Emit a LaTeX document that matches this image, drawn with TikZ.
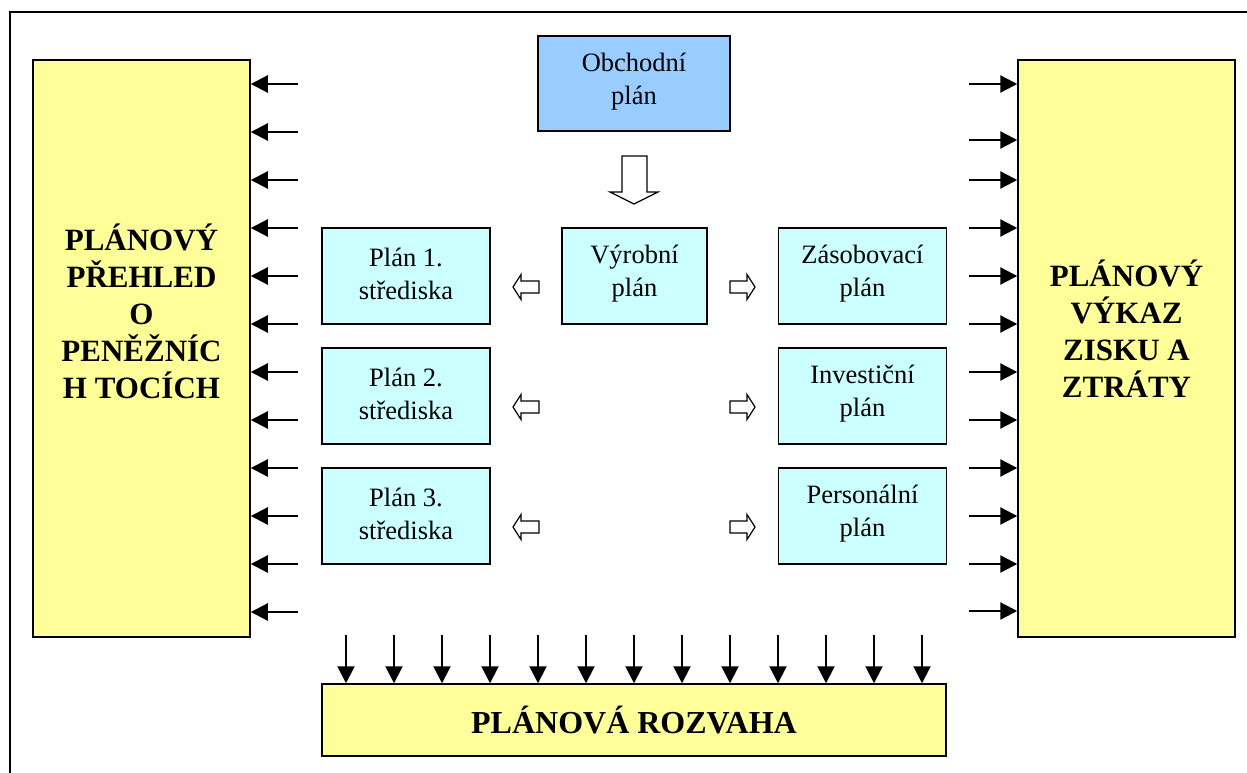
\documentclass[tikz,border=0pt]{standalone}
\usepackage{fontspec}
\setmainfont{Liberation Serif}
\usetikzlibrary{arrows.meta}
\definecolor{ylw}{HTML}{FFFF99}
\definecolor{cyn}{HTML}{CCFFFF}
\definecolor{blu}{HTML}{99CCFF}
\tikzset{
  bigbox/.style={draw=black, line width=1.5pt, fill=ylw, inner sep=0pt},
  planbox/.style={draw=black, line width=1.5pt, fill=cyn, inner sep=0pt, minimum width=168pt, minimum height=96pt},
  plantext/.style={align=center, inner sep=0pt, font=\fontsize{26.5}{33}\selectfont},
  bigtext/.style={align=center, font=\fontsize{31}{37}\selectfont\bfseries},
  arr/.style={line width=2.2pt, -{Triangle[length=17pt,width=17pt]}},
  hollow/.style={draw=black, line width=1.2pt, fill=white, line join=miter}
}
\begin{document}
\begin{tikzpicture}[x=1pt,y=-1pt]
\useasboundingbox (0,0) rectangle (1247,773);
% outer frame
\draw[line width=2pt] (10,773) -- (10,12) -- (1247,12);
% big boxes
\node[bigbox, minimum width=217pt, minimum height=577pt] (L) at (141.5,348.5) {};
\node[bigtext] (Ltxt) at (141.5,311) {PLÁNOVÝ\\PŘEHLED\\O\\PENĚŽNÍC\\H TOCÍCH};
\node[bigbox, minimum width=217pt, minimum height=577pt] (R) at (1126.5,348.5) {};
\node[bigtext] (Rtxt) at (1126.5,329) {PLÁNOVÝ\\VÝKAZ\\ZISKU A\\ZTRÁTY};
\node[bigbox, minimum width=624pt, minimum height=72pt, font=\fontsize{32}{37}\selectfont\bfseries] (B) at (634,720) {PLÁNOVÁ ROZVAHA};
% top box
\node[planbox, fill=blu, minimum width=192pt, minimum height=95pt] (O) at (634,83.5) {};
\node[plantext] (Ot) at (634,82) {Obchodní\\plán};
% plan boxes
\node[planbox, minimum width=145pt] (V) at (634.5,276) {};
\node[plantext] (Vt) at (634.5,273.5) {Výrobní\\plán};
\node[planbox] (P1) at (406,276) {};
\node[plantext] (P1t) at (406,273.5) {Plán 1.\\střediska};
\node[planbox] (P2) at (406,396) {};
\node[plantext] (P2t) at (406,393.5) {Plán 2.\\střediska};
\node[planbox] (P3) at (406,516) {};
\node[plantext] (P3t) at (406,513.5) {Plán 3.\\střediska};
\node[planbox] (Z) at (862.5,276) {};
\node[plantext] (Zt) at (862.5,273.5) {Zásobovací\\plán};
\node[planbox] (I) at (862.5,396) {};
\node[plantext] (It) at (862.5,393.5) {Investiční\\plán};
\node[planbox] (Pe) at (862.5,516) {};
\node[plantext] (Pet) at (862.5,513.5) {Personální\\plán};
% hollow down arrow
\draw[hollow] (622,156) -- (647,156) -- (647,192) -- (658,192) -- (634,204) -- (610,192) -- (622,192) -- cycle;
% small hollow arrows
\foreach \y in {287,407,527}{
  \draw[hollow] (513,\y) -- (521,\y-12.5) -- (521,\y-6) -- (539,\y-6) -- (539,\y+6) -- (521,\y+6) -- (521,\y+12.5) -- cycle;
  \draw[hollow] (755,\y) -- (747,\y-12.5) -- (747,\y-6) -- (730,\y-6) -- (730,\y+6) -- (747,\y+6) -- (747,\y+12.5) -- cycle;
}
% left arrows
\foreach \y [count=\i] in {84,132,180,228,276,324,372,420,468,516,564,612}{
  \coordinate (la\i) at (298,\y);
  \draw[arr] (la\i) -- (la\i -| L.east);
}
% right arrows
\foreach \y [count=\i] in {84,140,180,228,276,324,372,420,468,516,564,611}{
  \coordinate (ra\i) at (969,\y);
  \draw[arr] (ra\i) -- (ra\i -| R.west);
}
% bottom arrows
\foreach \i in {0,...,12}{
  \coordinate (ba\i) at (346+48*\i,635);
  \draw[arr] (ba\i) -- (ba\i |- B.north);
}
\end{tikzpicture}
\end{document}
